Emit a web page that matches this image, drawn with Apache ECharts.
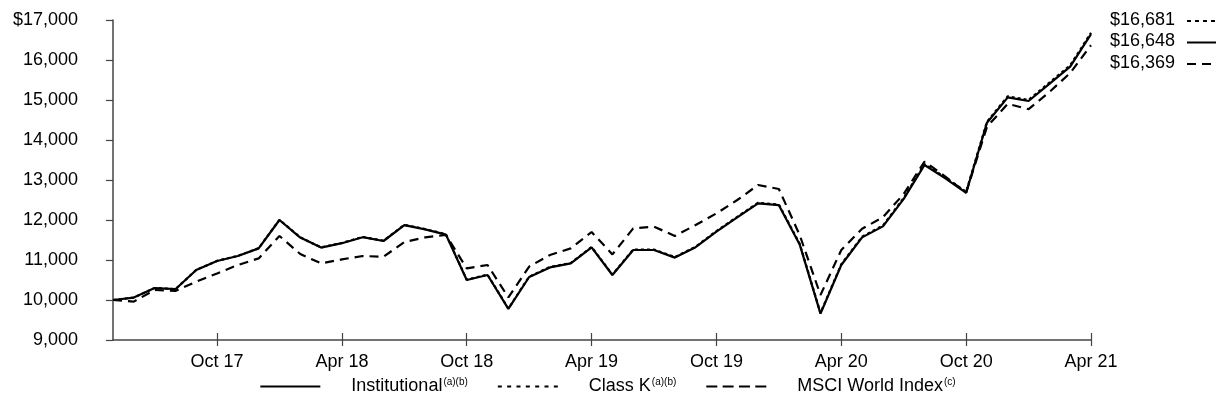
<!DOCTYPE html>
<html>
<head>
<meta charset="utf-8">
<script src="https://cdn.jsdelivr.net/npm/echarts@6/dist/echarts.min.js"></script>
<style>
  html, body { margin: 0; padding: 0; background: #fff; }
  #chart { width: 1216px; height: 412px; }
</style>
</head>
<body>
<div id="chart"></div>
<script>
const categories = ['May 17','Jun 17','Jul 17','Aug 17','Sep 17','Oct 17','Nov 17','Dec 17',
  'Jan 18','Feb 18','Mar 18','Apr 18','May 18','Jun 18','Jul 18','Aug 18','Sep 18','Oct 18','Nov 18','Dec 18',
  'Jan 19','Feb 19','Mar 19','Apr 19','May 19','Jun 19','Jul 19','Aug 19','Sep 19','Oct 19','Nov 19','Dec 19',
  'Jan 20','Feb 20','Mar 20','Apr 20','May 20','Jun 20','Jul 20','Aug 20','Sep 20','Oct 20','Nov 20','Dec 20',
  'Jan 21','Feb 21','Mar 21','Apr 21'];

const institutional = [10000,10060,10300,10270,10750,10975,11100,11290,12000,11560,11310,11420,
  11570,11475,11870,11765,11635,10500,10625,9780,10575,10815,10915,11315,
  10625,11250,11250,11060,11320,11710,12065,12415,12370,11390,9660,10875,
  11565,11840,12530,13375,13040,12680,14430,15065,14975,15405,15835,16648];

const classK = [10000,10060,10300,10272,10752,10978,11104,11294,12005,11565,11315,11426,
  11576,11482,11878,11773,11643,10508,10633,9788,10584,10824,10925,11325,
  10635,11261,11262,11072,11333,11724,12080,12431,12387,11406,9675,10893,
  11584,11860,12551,13398,13064,12704,14456,15093,15003,15434,15866,16681];

const msciWorld = [10000,9960,10250,10225,10460,10665,10875,11040,11600,11150,10915,11015,
  11100,11080,11450,11565,11625,10790,10875,10065,10835,11125,11290,11700,
  11140,11790,11835,11600,11875,12165,12500,12875,12775,11625,10125,11250,
  11780,12070,12650,13460,13085,12685,14330,14905,14770,15200,15675,16369];

const yMin = 9000, yMax = 17000, yStep = 1000;

const FONT = 'Liberation Sans, Arial, Helvetica, sans-serif';
const FS = 18;
const fmt = v => v.toLocaleString('en-US');

const chart = echarts.init(document.getElementById('chart'), null, { renderer: 'canvas' });

const showTick = (idx, val) => /^(Oct|Apr)/.test(val);

// legend icon paths (60 x 2 units)
function dashPath(n, w) {
  const period = n > 1 ? (60 - w) / (n - 1) : 0;
  let p = '';
  for (let i = 0; i < n; i++) {
    const x = (i * period).toFixed(2);
    p += 'M' + x + ',0h' + w + 'v2h-' + w + 'Z';
  }
  return 'path://' + p;
}
const ICON_SOLID = 'path://M0,0h60v2h-60Z';
const ICON_DOTTED = dashPath(7, 4);
const ICON_DASHED = dashPath(4, 11);

const seriesDefs = [
  { name: 'MSCI World Index', data: msciWorld, dash: [9, 6], sup: '(c)', icon: ICON_DASHED },
  { name: 'Class K', data: classK, dash: [3, 3], sup: '(a)(b)', icon: ICON_DOTTED },
  { name: 'Institutional', data: institutional, dash: null, sup: '(a)(b)', icon: ICON_SOLID }
];
const supMap = {}, iconMap = {};
seriesDefs.forEach(s => { supMap[s.name] = s.sup; iconMap[s.name] = s.icon; });

const endLabels = [
  { data: classK, dash: [4, 4] },
  { data: institutional, dash: null },
  { data: msciWorld, dash: [9, 6] }
];
const graphics = [];
endLabels.forEach((e, k) => {
  const y = 21 + k * 21.5;
  graphics.push({
    type: 'text', right: 1216 - 1175, top: y - 10,
    style: { text: '$' + fmt(e.data[e.data.length - 1]), font: FS + 'px ' + FONT, fill: '#000', textAlign: 'right' }
  });
  graphics.push({
    type: 'line', shape: { x1: 1187, y1: y, x2: 1222, y2: y },
    style: { stroke: '#000', lineWidth: 2, lineDash: e.dash || null }
  });
});

const legendOrder = ['Institutional', 'Class K', 'MSCI World Index'];

chart.setOption({
  animation: false,
  backgroundColor: '#fff',
  grid: { left: 113, right: 125, top: 20, bottom: 72, containLabel: false },
  xAxis: [{
    type: 'category',
    data: categories,
    boundaryGap: false,
    position: 'bottom',
    axisLine: { lineStyle: { color: '#444', width: 1.5 } },
    axisTick: { show: true, interval: showTick, length: 6, lineStyle: { color: '#444', width: 1.2 } },
    axisLabel: { interval: showTick, margin: 13, color: '#000', fontSize: FS, fontFamily: FONT },
    splitLine: { show: false }
  }, {
    type: 'category',
    data: categories,
    boundaryGap: false,
    position: 'bottom',
    axisLine: { show: false },
    axisTick: { show: true, inside: true, interval: showTick, length: 7, lineStyle: { color: '#444', width: 1.2 } },
    axisLabel: { show: false },
    splitLine: { show: false }
  }],
  yAxis: {
    type: 'value',
    min: yMin, max: yMax, interval: yStep,
    axisLine: { show: true, lineStyle: { color: '#444', width: 1.5 } },
    axisTick: { show: true, length: 7, lineStyle: { color: '#444', width: 1.2 } },
    axisLabel: { margin: 35, color: '#000', fontSize: FS, fontFamily: FONT,
      formatter: v => (v === yMax ? '$' : '') + fmt(v) },
    splitLine: { show: false }
  },
  legend: {
    data: legendOrder.map(n => ({ name: n, icon: iconMap[n] })),
    left: 'center',
    top: 372,
    itemWidth: 60,
    itemHeight: 2,
    itemGap: 30,
    itemStyle: { color: '#000', borderWidth: 0 },
    formatter: name => name + '{sup|' + supMap[name] + '}',
    textStyle: {
      color: '#000', fontSize: 18, fontFamily: FONT, padding: [0, 0, 0, 26],
      rich: { sup: { fontSize: 10, fontFamily: FONT, color: '#000', padding: [0, 0, 9, 1] } }
    }
  },
  graphic: graphics,
  series: seriesDefs.map(s => ({
    name: s.name,
    type: 'line',
    data: s.data,
    symbol: 'none',
    showSymbol: false,
    lineStyle: { color: '#000', width: 2.2, type: s.dash || 'solid', cap: 'butt' },
    itemStyle: { color: '#000' },
    emphasis: { disabled: true }
  }))
});
</script>
</body>
</html>
